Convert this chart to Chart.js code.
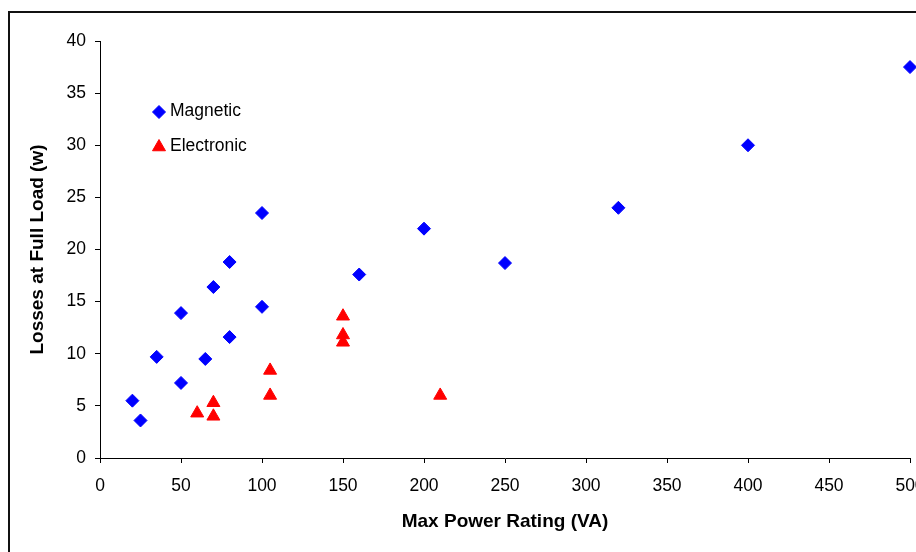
<!DOCTYPE html>
<html>
<head>
<meta charset="utf-8">
<script src="https://cdn.jsdelivr.net/npm/chart.js@4/dist/chart.umd.min.js"></script>
<style>
  html, body { margin: 0; padding: 0; background: #fff; overflow: hidden; }
  #wrap { position: relative; width: 916px; height: 552px; overflow: hidden; }
  #frame { position: absolute; left: 8px; top: 11px; width: 1000px; height: 700px; border: 2px solid #111; box-sizing: border-box; }
  canvas { position: absolute; left: 0; top: 0; }
</style>
</head>
<body>
<div id="wrap">
  <div id="frame"></div>
  <canvas id="chart" width="960" height="552"></canvas>
</div>
<script>
// ratings (VA) and full-load losses (W)
const magneticVA = [20, 25, 35, 50, 50, 65, 70, 80, 80, 100, 100, 160, 200, 250, 320, 400, 500];
const magneticLoss = [5.5, 3.6, 9.7, 13.9, 7.2, 9.5, 16.4, 18.8, 11.6, 23.5, 14.5, 17.6, 22.0, 18.7, 24.0, 30.0, 37.5];
const electronicVA = [60, 70, 70, 105, 105, 150, 150, 150, 210];
const electronicLoss = [4.3, 5.3, 4.0, 8.4, 6.0, 13.6, 11.8, 11.1, 6.0];

const xTicks = [0, 50, 100, 150, 200, 250, 300, 350, 400, 450, 500];
const yTicks = [0, 5, 10, 15, 20, 25, 30, 35, 40];

const toPoints = (xs, ys) => xs.map((x, i) => ({x: x, y: ys[i]}));

const tickFont = {family: '"Liberation Sans", Arial, sans-serif', size: 17.5};
const titleFont = {family: '"Liberation Sans", Arial, sans-serif', size: 19, weight: 'bold'};

// legend drawn inside the plot area, like the original
const insideLegend = {
    id: 'insideLegend',
    afterDatasetsDraw(chart) {
        const ctx = chart.ctx;
        const rows = [112, 147];
        ctx.save();
        ctx.font = '17.5px "Liberation Sans", Arial, sans-serif';
        ctx.textBaseline = 'middle';
        chart.data.datasets.forEach((ds, i) => {
            const y = rows[i];
            ctx.fillStyle = ds.backgroundColor;
            ctx.strokeStyle = ds.borderColor;
            ctx.lineWidth = 1;
            Chart.helpers.drawPoint(ctx, {pointStyle: ds.pointStyle, radius: ds.pointRadius, borderWidth: 1}, 159, y);
            ctx.fillStyle = '#000';
            ctx.fillText(ds.label, 170, y - 1);
        });
        ctx.restore();
    }
};

new Chart(document.getElementById('chart').getContext('2d'), {
    type: 'scatter',
    data: {
        datasets: [{
            label: 'Magnetic',
            data: toPoints(magneticVA, magneticLoss),
            pointStyle: 'rectRot',
            pointRadius: 6.5,
            borderWidth: 1,
            backgroundColor: '#0000ff',
            borderColor: '#0000ff',
            clip: false
        }, {
            label: 'Electronic',
            data: toPoints(electronicVA, electronicLoss),
            pointStyle: 'triangle',
            pointRadius: 7.5,
            borderWidth: 1,
            backgroundColor: '#ff0000',
            borderColor: '#ff0000',
            clip: false
        }]
    },
    options: {
        responsive: false,
        animation: false,
        layout: {padding: {left: 0, right: 50, top: 41, bottom: 0}},
        plugins: {legend: {display: false}, tooltip: {enabled: false}},
        scales: {
            x: {
                type: 'linear',
                min: 0,
                max: 500,
                afterBuildTicks: (s) => { s.ticks = xTicks.map(v => ({value: v})); },
                afterFit: (s) => { s.height = 94; },
                grid: {drawOnChartArea: false, tickLength: 5, color: '#000'},
                border: {color: '#000', width: 1},
                ticks: {color: '#000', font: tickFont, padding: 13, maxRotation: 0},
                title: {display: true, text: 'Max Power Rating (VA)', color: '#000', font: titleFont, padding: {top: 0, bottom: 19}}
            },
            y: {
                type: 'linear',
                min: 0,
                max: 40,
                afterBuildTicks: (s) => { s.ticks = yTicks.map(v => ({value: v})); },
                afterFit: (s) => { s.width = 100; },
                grid: {drawOnChartArea: false, tickLength: 5, color: '#000'},
                border: {color: '#000', width: 1},
                ticks: {color: '#000', font: tickFont, padding: 9},
                title: {display: true, text: 'Losses at Full Load (w)', color: '#000', font: titleFont, padding: {top: 26, bottom: 0}}
            }
        }
    },
    plugins: [insideLegend]
});
</script>
</body>
</html>
